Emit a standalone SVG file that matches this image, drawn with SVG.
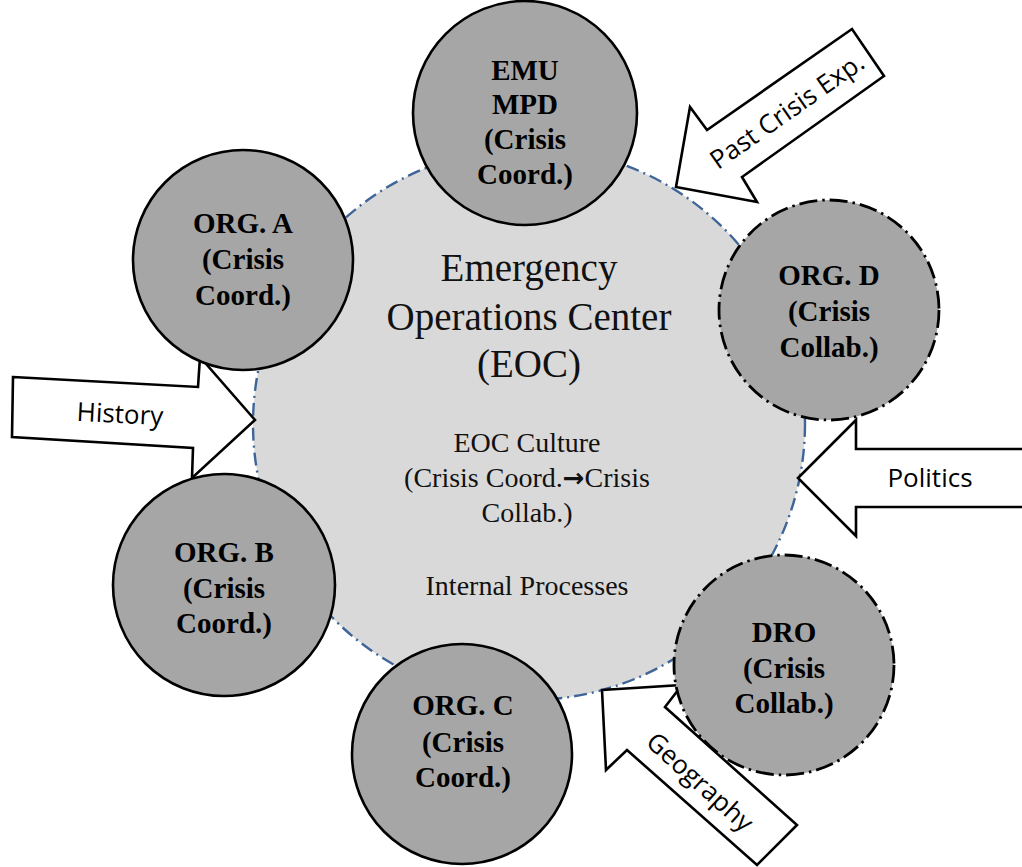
<svg xmlns="http://www.w3.org/2000/svg" width="1022" height="867" viewBox="0 0 1022 867">
<style>
.bg{fill:#ffffff}
.eoc{fill:#d9d9d9;stroke:#3f6598;stroke-width:2.4;stroke-dasharray:13 5 2 5}
.org{fill:#a6a6a6;stroke:#000;stroke-width:2.6}
.orgd{fill:#a6a6a6;stroke:#000;stroke-width:2.8;stroke-dasharray:18 5 2.5 5}
.arr{fill:#fff;stroke:#000;stroke-width:2.6;stroke-linejoin:miter}
.nt{font-family:"Liberation Serif","Times New Roman",serif;font-weight:bold;font-size:29px;fill:#000;text-anchor:middle}
.big{font-family:"Liberation Serif","Times New Roman",serif;font-size:39px;fill:#111;text-anchor:middle}
.mid{font-family:"Liberation Serif","Times New Roman",serif;font-size:28px;fill:#111;text-anchor:middle}
.ar{font-family:"DejaVu Sans",sans-serif;font-weight:bold;font-size:26px}
.at{font-family:"Open Sans","Noto Sans","Liberation Sans",sans-serif;font-size:26px;fill:#000;text-anchor:middle}
</style>
<rect class="bg" x="0" y="0" width="1022" height="867"/>
<g id="eoc">
  <circle class="eoc" cx="529" cy="424" r="276"/>
  <text class="big" x="529" y="281">Emergency</text>
  <text class="big" x="529" y="330">Operations Center</text>
  <text class="big" x="529" y="377">(EOC)</text>
  <text class="mid" x="527" y="452">EOC Culture</text>
  <text class="mid" x="527" y="487">(Crisis Coord.<tspan class="ar">→</tspan>Crisis</text>
  <text class="mid" x="527" y="522">Collab.)</text>
  <text class="mid" x="527" y="595">Internal Processes</text>
</g>
<g id="connectors">
  <g id="arrow-past">
    <polygon class="arr" points="676,187 690,107 707,130 852,29 884,76 742,177 757,202"/>
    <text class="at" transform="translate(787,111) rotate(-35)" y="9">Past Crisis Exp.</text>
  </g>
  <g id="arrow-history">
    <polygon class="arr" points="13,377 198,387 200,357 255,420 192,478 193,448 12,437"/>
    <text class="at" transform="translate(120,414) rotate(3)" y="9">History</text>
  </g>
  <g id="arrow-politics">
    <polygon class="arr" points="1030,449 856,449 856,420 798,478 856,536 856,507 1030,507"/>
    <text class="at" x="930" y="487">Politics</text>
  </g>
  <g id="arrow-geography">
    <polygon class="arr" points="602,690 682,685 665,707 797,825 757,865 627,750 606,770"/>
    <text class="at" transform="translate(700,782) rotate(42)" y="9">Geography</text>
  </g>
</g>
<g id="emu">
  <circle class="org" cx="525" cy="113" r="112"/>
  <text class="nt" x="525" y="80">EMU</text>
  <text class="nt" x="525" y="114">MPD</text>
  <text class="nt" x="525" y="149">(Crisis</text>
  <text class="nt" x="525" y="184">Coord.)</text>
</g>
<g id="org-a">
  <circle class="org" cx="243" cy="260" r="110"/>
  <text class="nt" x="243" y="233">ORG. A</text>
  <text class="nt" x="243" y="269">(Crisis</text>
  <text class="nt" x="243" y="305">Coord.)</text>
</g>
<g id="org-d">
  <circle class="orgd" cx="829" cy="310" r="110"/>
  <text class="nt" x="829" y="285">ORG. D</text>
  <text class="nt" x="829" y="321">(Crisis</text>
  <text class="nt" x="829" y="357">Collab.)</text>
</g>
<g id="org-b">
  <circle class="org" cx="224" cy="585" r="111"/>
  <text class="nt" x="224" y="562">ORG. B</text>
  <text class="nt" x="224" y="598">(Crisis</text>
  <text class="nt" x="224" y="633">Coord.)</text>
</g>
<g id="org-c">
  <circle class="org" cx="462" cy="754" r="110"/>
  <text class="nt" x="463" y="715">ORG. C</text>
  <text class="nt" x="463" y="752">(Crisis</text>
  <text class="nt" x="463" y="787">Coord.)</text>
</g>
<g id="dro">
  <circle class="orgd" cx="784" cy="665" r="110"/>
  <text class="nt" x="784" y="642">DRO</text>
  <text class="nt" x="784" y="678">(Crisis</text>
  <text class="nt" x="784" y="713">Collab.)</text>
</g>
</svg>
